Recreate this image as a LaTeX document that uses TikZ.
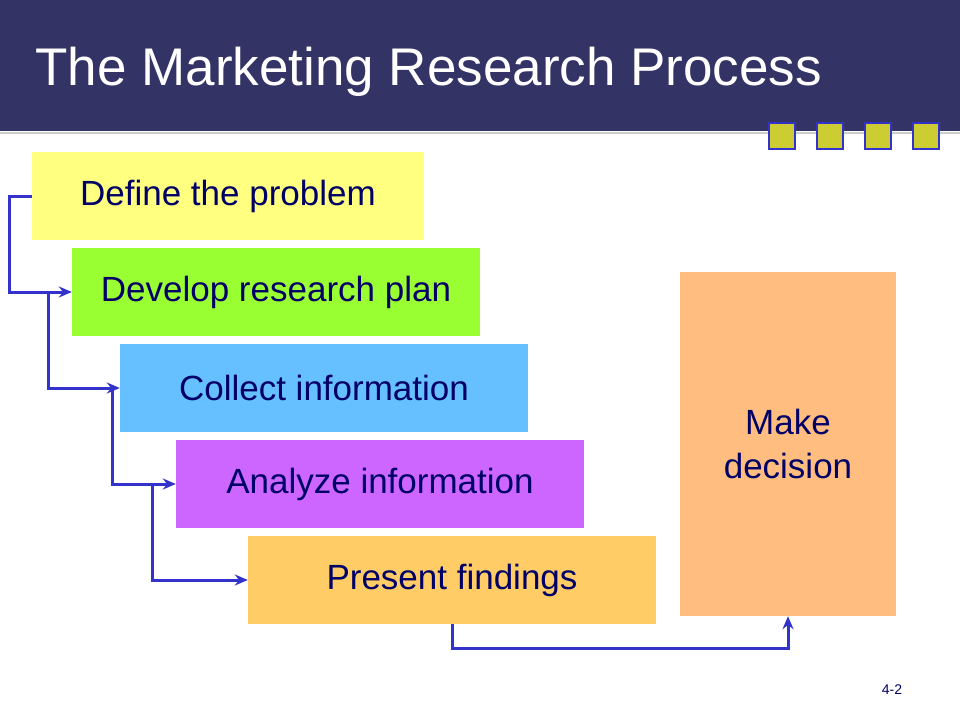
\documentclass[tikz,border=0pt]{standalone}
\usepackage{fontspec}
\setmainfont{Liberation Sans}
\usetikzlibrary{arrows.meta}
\usetikzlibrary{positioning}
\definecolor{navy}{RGB}{51,51,102}
\definecolor{inkblue}{RGB}{0,0,102}
\definecolor{linkblue}{RGB}{51,51,204}
\definecolor{olive}{RGB}{204,204,51}
\definecolor{stepyellow}{RGB}{255,255,128}
\definecolor{stepgreen}{RGB}{153,255,51}
\definecolor{stepblue}{RGB}{102,192,255}
\definecolor{steppurple}{RGB}{204,102,255}
\definecolor{steporange}{RGB}{255,204,102}
\definecolor{decide}{RGB}{255,190,128}

\begin{document}
\begin{tikzpicture}
  [x=1pt, y=-1pt,
   stepbox/.style = {minimum width=408pt, minimum height=88pt, inner sep=0pt,
                     text=inkblue, font=\fontsize{35}{40}\selectfont},
   link/.style = {linkblue, line width=3pt, -{Stealth[length=13pt,width=11pt]}},
   square/.style = {fill=olive, draw=linkblue, line width=2.5pt,
                    minimum size=26pt, inner sep=0pt}]
  \useasboundingbox (0,0) rectangle (960,720);
  \fill[navy] (0,0) rectangle (960,131);
  \draw[gray!40, line width=1.5pt] (0,133) -- (960,133);
  \node[anchor=west, text=white, font=\fontsize{53}{60}\selectfont] (title) at (32,72)
    {The Marketing Research Process};

  \foreach \x [count=\i] in {782,830,878,926}
    \node[square] (sq\i) at (\x,136) {};

  \node[stepbox, fill=stepyellow, minimum width=392pt] (define) at (228,196) {Define the problem};
  \node[stepbox, fill=stepgreen] (develop) at (276,292) {Develop research plan};
  \node[stepbox, fill=stepblue] (collect) at (324,388) {Collect information};
  \node[stepbox, fill=steppurple] (analyze) at (380,484) {Analyze information};
  \node[stepbox, fill=steporange] (present) at (452,580) {Present findings};
  \node[fill=decide, minimum width=216pt, minimum height=344pt, inner sep=0pt,
        text=inkblue, align=center, font=\fontsize{35}{44}\selectfont] (decision) at (788,444)
    {Make\\decision};

  \node[font=\fontsize{14}{16}\selectfont, text=inkblue] (page) at (892,690) {4-2};

  \coordinate (k1) at (48,292);
  \coordinate (k2) at (112,388);
  \coordinate (k3) at (152,484);
  \draw[link] (define.west) -- ++(-22,0) |- (develop.west);
  \draw[link] (k1) |- (collect.west);
  \draw[link] (k2) |- (analyze.west);
  \draw[link] (k3) |- (present.west);
  \draw[link] (present.south) -- ++(0,24) -| (decision.south);
\end{tikzpicture}
\end{document}
